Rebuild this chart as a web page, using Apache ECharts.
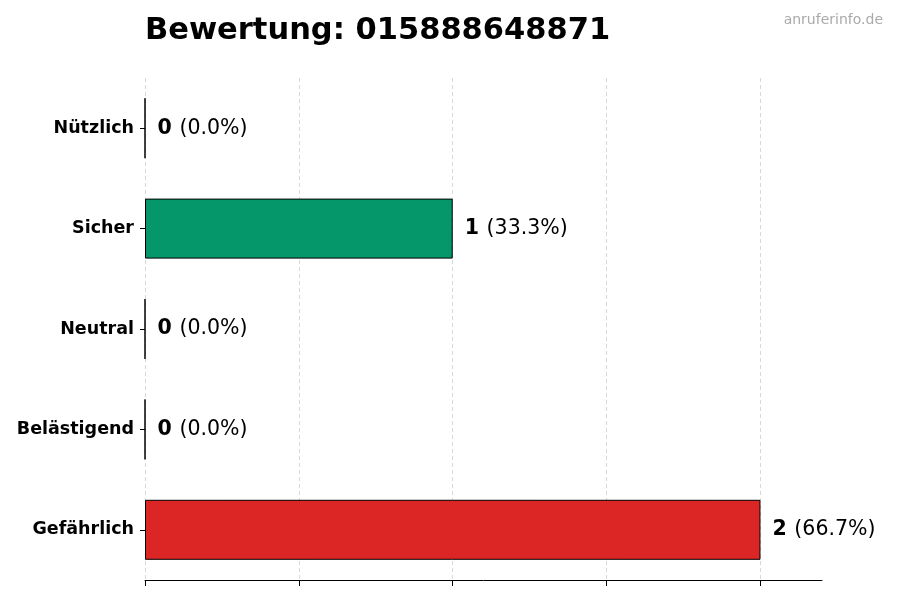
<!DOCTYPE html>
<html style="height: 100%">
<head>
<meta charset="utf-8">
<script src="https://cdn.jsdelivr.net/npm/echarts@6/dist/echarts.min.js"></script>
</head>
<body style="height: 100%; margin: 0; background: #fff">
<div id="container" style="width: 900px; height: 600px"></div>
<script type="text/javascript">
var categories = ['Gefährlich', 'Belästigend', 'Neutral', 'Sicher', 'Nützlich'];
var counts = [2, 0, 0, 1, 0];
var percents = ['66.7%', '0.0%', '0.0%', '33.3%', '0.0%'];
var barColors = ['#dc2626', '#7f7f7f', '#7f7f7f', '#059669', '#7f7f7f'];
var xTicks = [0, 0.5, 1, 1.5, 2];

var font = 'DejaVu Sans';
var chart = echarts.init(document.getElementById('container'));

var option = {
    animation: false,
    textStyle: { fontFamily: font },
    title: [{
        text: 'Bewertung: 015888648871',
        left: 140,
        top: 11,
        textStyle: { fontFamily: font, fontSize: 30.5, fontWeight: 'bold', color: '#000' }
    }, {
        text: 'anruferinfo.de',
        right: 12,
        top: 8,
        textStyle: { fontFamily: font, fontSize: 14, fontWeight: 'normal', color: '#aaa' }
    }],
    grid: { left: 145, right: 78, top: 78, bottom: 20, containLabel: false },
    xAxis: {
        type: 'value',
        min: 0,
        max: 2.2,
        interval: 0.5,
        axisLine: { show: true, lineStyle: { color: '#000', width: 1 } },
        axisTick: { show: true, length: 6, customValues: xTicks, lineStyle: { color: '#000' } },
        axisLabel: { show: false },
        splitLine: {
            show: true,
            lineStyle: { type: [4, 3], color: ['#d8d8d8', '#d8d8d8', '#d8d8d8', '#d8d8d8', '#d8d8d8', 'rgba(0,0,0,0)'], width: 1 }
        }
    },
    yAxis: {
        type: 'category',
        data: categories,
        axisLine: { show: false },
        axisTick: { show: true, alignWithLabel: true, length: 5, lineStyle: { color: '#000' } },
        axisLabel: { margin: 11, fontFamily: font, fontSize: 17.5, fontWeight: 'bold', color: '#000' },
        splitLine: { show: false }
    },
    series: [{
        type: 'bar',
        barWidth: 60,
        data: counts.map(function (v, i) {
            return {
                value: v,
                itemStyle: { color: barColors[i], borderColor: '#000', borderWidth: 1 },
                label: {
                    formatter: '{b|' + v + '}  {n|(' + percents[i] + ')}'
                }
            };
        }),
        label: {
            show: true,
            position: 'right',
            distance: 12,
            rich: {
                b: { fontFamily: font, fontSize: 20.5, fontWeight: 'bold', color: '#000' },
                n: { fontFamily: font, fontSize: 20.5, color: '#000' }
            }
        }
    }]
};

chart.setOption(option);
</script>
</body>
</html>
